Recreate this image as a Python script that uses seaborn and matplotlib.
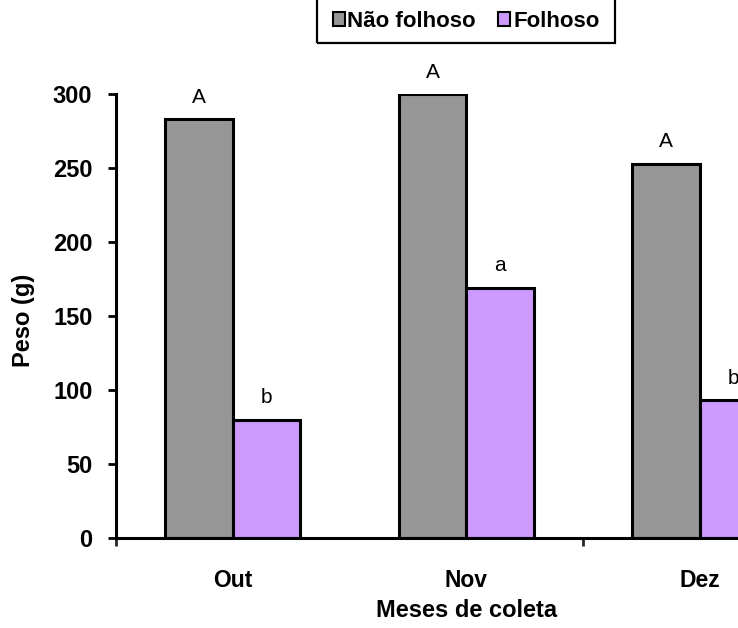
import matplotlib
matplotlib.use("Agg")
import matplotlib.pyplot as plt
import seaborn as sns
import pandas as pd
from matplotlib.patches import Patch, Rectangle
from matplotlib.ticker import FixedLocator

# Data
meses = ["Out", "Nov", "Dez"]
tipos = ["Não folhoso", "Folhoso"]
nao_folhoso = [283, 300, 253]
folhoso = [80, 169, 93]
letras_nao_folhoso = ["A", "A", "A"]
letras_folhoso = ["b", "a", "b"]
cores = ["#969696", "#CC99FF"]
y_ticks = [0, 50, 100, 150, 200, 250, 300]

df = pd.DataFrame({
    "Mês": meses * 2,
    "Tipo": [tipos[0]] * len(meses) + [tipos[1]] * len(meses),
    "Peso": nao_folhoso + folhoso,
})

sns.set_style("white")
plt.rcParams["font.family"] = ["Liberation Sans", "DejaVu Sans"]
plt.rcParams["text.color"] = "black"
plt.rcParams["axes.labelcolor"] = "black"

W, H = 738, 628
fig = plt.figure(figsize=(W / 100, H / 100), dpi=100)
# plot area runs past the right edge of the figure, so the last group is cut
ax = fig.add_axes([116 / W, 90 / H, 700.5 / W, 444 / H])

sns.barplot(data=df, x="Mês", y="Peso", hue="Tipo", order=meses,
            hue_order=tipos, palette=cores, saturation=1, width=0.58,
            edgecolor="black", linewidth=2.2, legend=False, ax=ax)

for cont, letras in zip(ax.containers, [letras_nao_folhoso, letras_folhoso]):
    ax.bar_label(cont, labels=letras, padding=9, fontsize=15, color="black")

ax.set_xlim(-0.5, len(meses) - 0.5)
ax.set_ylim(0, 300)
ax.set_yticks(y_ticks)
ax.set_yticklabels([str(t) for t in y_ticks], fontsize=17, fontweight="bold")
ax.set_xticks(range(len(meses)))
ax.set_xticklabels(meses, fontsize=16.5, fontweight="bold")
ax.xaxis.set_minor_locator(FixedLocator([-0.5, 1.5]))

ax.tick_params(axis="y", which="major", direction="out", length=6, width=2,
               pad=11, left=True, colors="black")
ax.tick_params(axis="x", which="major", length=0, pad=22, colors="black")
ax.tick_params(axis="x", which="minor", direction="out", length=6, width=2,
               bottom=True)

for side in ["top", "right"]:
    ax.spines[side].set_visible(False)
for side in ["left", "bottom"]:
    ax.spines[side].set_linewidth(2.2)
    ax.spines[side].set_color("black")

ax.set_ylabel("Peso (g)", fontsize=17, fontweight="bold", color="black")
ax.set_xlabel("Meses de coleta", fontsize=17, fontweight="bold", color="black")
ax.yaxis.set_label_coords(-0.115, 0.49)
ax.xaxis.set_label_coords(0.5, -0.137)

handles = [Patch(facecolor=c, edgecolor="black", linewidth=1.5) for c in cores]
leg = fig.legend(handles, tipos, loc="lower center",
                 bbox_to_anchor=(466 / W, 1 - 43 / H), borderaxespad=0,
                 ncol=2, frameon=False, handlelength=0.55, handleheight=0.55,
                 handletextpad=0.12, columnspacing=1.0, borderpad=0.5,
                 labelcolor="black", prop={"size": 16, "weight": "bold"})

# legend frame whose top edge runs off the top of the figure
fig.canvas.draw()
bb = leg.get_window_extent().transformed(fig.transFigure.inverted())
pad_x = 4 / W
frame = Rectangle((bb.x0 - pad_x, bb.y0), bb.width + 2 * pad_x, bb.height + 0.1,
                  transform=fig.transFigure, fill=False, edgecolor="black",
                  linewidth=1.6)
fig.add_artist(frame)

fig.savefig("out.png", dpi=100)
